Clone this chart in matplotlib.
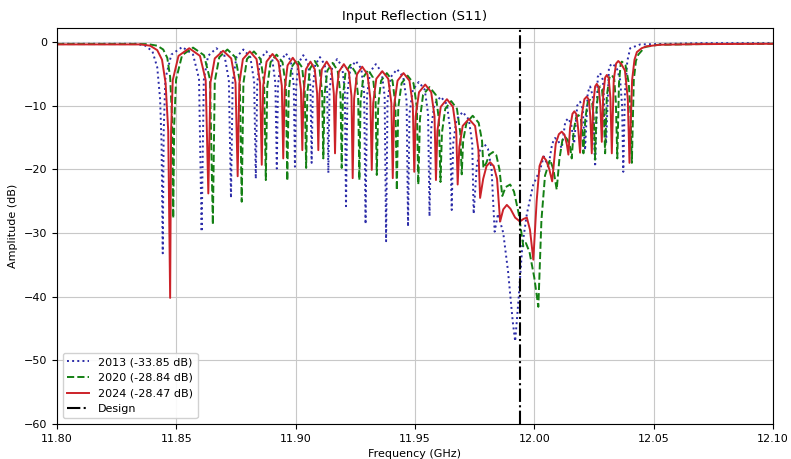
import matplotlib
matplotlib.use("Agg")
import matplotlib.pyplot as plt

# ---- data (frequency GHz, S11 dB) ----
S11_2013 = [
    (11.8000, -0.3), (11.8330, -0.3), (11.8370, -0.6), (11.8400, -1.5), (11.8420, -4.0),
    (11.8432, -9.0), (11.8438, -16.0), (11.8443, -33.2), (11.8447, -14.0),
    (11.8454, -5.8), (11.8479, -2.0), (11.8525, -0.8), (11.8570, -2.0), (11.8595, -5.8), (11.8606, -29.8),
    (11.8615, -6.0), (11.8633, -2.2), (11.8668, -1.0), (11.8702, -2.2), (11.8720, -6.0), (11.8729, -24.5),
    (11.8736, -6.2), (11.8752, -2.4), (11.8781, -1.2), (11.8810, -2.4), (11.8826, -6.2), (11.8833, -21.5),
    (11.8839, -6.5), (11.8852, -2.7), (11.8877, -1.5), (11.8902, -2.7), (11.8915, -6.5), (11.8921, -19.9),
    (11.8926, -6.8), (11.8938, -3.0), (11.8959, -1.8), (11.8980, -3.0), (11.8992, -6.8), (11.8997, -19.6),
    (11.9002, -7.1), (11.9012, -3.3), (11.9032, -2.1), (11.9052, -3.3), (11.9062, -7.1), (11.9067, -19.0),
    (11.9072, -7.4), (11.9082, -3.6), (11.9102, -2.4), (11.9122, -3.6), (11.9132, -7.4), (11.9137, -20.6),
    (11.9142, -7.7), (11.9153, -3.9), (11.9174, -2.7), (11.9195, -3.9), (11.9206, -7.7), (11.9211, -25.8),
    (11.9217, -8.0), (11.9229, -4.2), (11.9252, -3.0), (11.9275, -4.2), (11.9287, -8.0), (11.9293, -28.6),
    (11.9299, -8.5), (11.9312, -4.7), (11.9336, -3.5), (11.9360, -4.7), (11.9373, -8.5), (11.9379, -31.3),
    (11.9385, -9.3), (11.9399, -5.5), (11.9425, -4.3), (11.9451, -5.5), (11.9465, -9.3), (11.9471, -29.0),
    (11.9477, -11.3), (11.9491, -7.5), (11.9516, -6.3), (11.9541, -7.5), (11.9555, -11.3), (11.9561, -27.4),
    (11.9568, -13.6), (11.9581, -9.8), (11.9608, -8.6), (11.9634, -9.8), (11.9647, -13.6), (11.9654, -26.4),
    (11.9660, -16.0), (11.9674, -12.2), (11.9700, -11.0), (11.9726, -12.2), (11.9740, -16.0), (11.9746, -27.0),
    (11.9759, -19.5), (11.9774, -16.7), (11.9790, -16.0), (11.9806, -16.8), (11.9821, -20.0), (11.9834, -29.8),
    (11.9848, -27.0), (11.9870, -30.0), (11.9890, -36.0), (11.9910, -44.0), (11.9920, -47.0), (11.9935, -40.0),
    (11.9950, -32.0), (11.9969, -27.0), (11.9995, -22.5), (12.0024, -20.1), (12.0040, -18.0), (12.0059, -19.6),
    (12.0075, -16.0), (12.0087, -15.1), (12.0100, -15.5), (12.0115, -16.7), (12.0130, -12.5), (12.0143, -12.0),
    (12.0155, -13.0), (12.0167, -16.0), (12.0180, -10.0), (12.0192, -9.4), (12.0203, -10.5), (12.0213, -17.0),
    (12.0224, -8.0), (12.0234, -7.0), (12.0245, -8.5), (12.0255, -19.6), (12.0266, -5.5), (12.0276, -4.9),
    (12.0288, -6.0), (12.0301, -16.0), (12.0313, -4.0), (12.0325, -3.4), (12.0345, -4.0), (12.0360, -6.0),
    (12.0368, -10.0), (12.0373, -20.4), (12.0380, -8.0), (12.0390, -3.0), (12.0402, -1.0), (12.0444, -0.4),
    (12.0700, -0.2), (12.1000, -0.2),
]

S11_2020 = [
    (11.8000, -0.35), (11.8380, -0.35), (11.8420, -0.6), (11.8445, -1.2), (11.8462, -2.5),
    (11.8474, -5.5), (11.8482, -12.0), (11.8487, -27.7), (11.8491, -13.0),
    (11.8499, -5.9), (11.8524, -2.1), (11.8570, -0.9), (11.8616, -2.1), (11.8641, -5.9), (11.8653, -28.7),
    (11.8661, -6.2), (11.8680, -2.4), (11.8714, -1.2), (11.8747, -2.4), (11.8766, -6.2), (11.8774, -25.1),
    (11.8781, -6.5), (11.8796, -2.7), (11.8825, -1.5), (11.8853, -2.7), (11.8868, -6.5), (11.8875, -21.7),
    (11.8881, -7.0), (11.8895, -3.2), (11.8920, -2.0), (11.8945, -3.2), (11.8959, -7.0), (11.8965, -21.8),
    (11.8971, -7.8), (11.8982, -4.0), (11.9005, -2.8), (11.9027, -4.0), (11.9038, -7.8), (11.9044, -19.8),
    (11.9049, -8.0), (11.9060, -4.2), (11.9080, -3.0), (11.9100, -4.2), (11.9111, -8.0), (11.9116, -18.3),
    (11.9121, -8.3), (11.9133, -4.5), (11.9155, -3.3), (11.9176, -4.5), (11.9188, -8.3), (11.9193, -19.8),
    (11.9198, -8.6), (11.9209, -4.8), (11.9230, -3.6), (11.9251, -4.8), (11.9262, -8.6), (11.9267, -21.7),
    (11.9272, -9.4), (11.9283, -5.6), (11.9304, -4.4), (11.9324, -5.6), (11.9335, -9.4), (11.9340, -20.9),
    (11.9346, -9.9), (11.9358, -6.1), (11.9382, -4.9), (11.9406, -6.1), (11.9418, -9.9), (11.9424, -23.3),
    (11.9430, -10.3), (11.9444, -6.5), (11.9469, -5.3), (11.9494, -6.5), (11.9508, -10.3), (11.9514, -22.4),
    (11.9521, -12.1), (11.9534, -8.3), (11.9561, -7.1), (11.9587, -8.3), (11.9600, -12.1), (11.9607, -22.0),
    (11.9613, -14.3), (11.9627, -10.5), (11.9652, -9.3), (11.9676, -10.5), (11.9690, -14.3), (11.9696, -20.8),
    (11.9702, -15.5), (11.9716, -12.7), (11.9742, -11.6), (11.9767, -12.7), (11.9781, -15.5), (11.9787, -19.8),
    (11.9799, -19.0), (11.9812, -17.7), (11.9827, -17.3), (11.9841, -17.8), (11.9854, -20.0), (11.9866, -24.2),
    (11.9880, -22.8), (11.9899, -22.4), (11.9915, -23.5), (11.9935, -27.0), (11.9954, -32.1), (11.9965, -31.6),
    (11.9980, -33.0), (12.0000, -37.0), (12.0017, -41.6), (12.0030, -28.0), (12.0045, -21.0), (12.0066, -18.5),
    (12.0080, -20.0), (12.0094, -23.2),
    (12.0105, -18.5), (12.0118, -15.4), (12.0129, -14.9), (12.0140, -15.4), (12.0150, -16.5), (12.0157, -18.3),
    (12.0165, -14.0), (12.0175, -11.9), (12.0185, -11.5), (12.0195, -12.0), (12.0201, -14.0), (12.0206, -17.5),
    (12.0214, -12.0), (12.0224, -9.5), (12.0234, -9.1), (12.0243, -9.7), (12.0250, -12.5), (12.0255, -18.5),
    (12.0261, -10.5), (12.0269, -7.4), (12.0276, -7.0), (12.0284, -7.5), (12.0291, -10.8), (12.0297, -17.5),
    (12.0304, -8.5), (12.0315, -5.6), (12.0325, -5.2), (12.0335, -5.8), (12.0342, -9.5), (12.0348, -18.3),
    (12.0355, -6.5), (12.0362, -3.5), (12.0367, -3.1), (12.0382, -3.6), (12.0396, -6.5), (12.0403, -11.0),
    (12.0409, -19.0), (12.0417, -6.0), (12.0426, -3.0), (12.0436, -2.0), (12.0464, -0.8), (12.0520, -0.45),
    (12.0700, -0.35), (12.1000, -0.3),
]

S11_2024 = [
    (11.8000, -0.4), (11.8350, -0.4), (11.8390, -0.6), (11.8420, -1.3), (11.8440, -2.8),
    (11.8455, -6.5), (11.8466, -14.0), (11.8474, -40.2), (11.8478, -14.0),
    (11.8485, -6.0), (11.8509, -2.2), (11.8554, -1.0), (11.8599, -2.2), (11.8623, -6.0), (11.8634, -23.8),
    (11.8643, -6.4), (11.8661, -2.6), (11.8696, -1.4), (11.8730, -2.6), (11.8748, -6.4), (11.8757, -21.1),
    (11.8764, -6.5), (11.8779, -2.7), (11.8808, -1.5), (11.8836, -2.7), (11.8851, -6.5), (11.8858, -19.3),
    (11.8864, -6.9), (11.8878, -3.1), (11.8903, -1.9), (11.8928, -3.1), (11.8942, -6.9), (11.8948, -18.3),
    (11.8954, -7.5), (11.8966, -3.7), (11.8988, -2.5), (11.9010, -3.7), (11.9022, -7.5), (11.9028, -17.0),
    (11.9033, -8.1), (11.9043, -4.3), (11.9062, -3.1), (11.9080, -4.3), (11.9090, -8.1), (11.9095, -17.0),
    (11.9100, -8.1), (11.9110, -4.3), (11.9130, -3.1), (11.9150, -4.3), (11.9160, -8.1), (11.9165, -17.5),
    (11.9170, -8.5), (11.9181, -4.7), (11.9202, -3.5), (11.9223, -4.7), (11.9234, -8.5), (11.9239, -21.4),
    (11.9245, -8.9), (11.9257, -5.1), (11.9279, -3.9), (11.9301, -5.1), (11.9313, -8.9), (11.9319, -20.1),
    (11.9325, -9.6), (11.9338, -5.8), (11.9363, -4.6), (11.9388, -5.8), (11.9401, -9.6), (11.9407, -21.4),
    (11.9413, -9.9), (11.9427, -6.1), (11.9452, -4.9), (11.9477, -6.1), (11.9491, -9.9), (11.9497, -20.4),
    (11.9503, -11.7), (11.9517, -7.9), (11.9543, -6.7), (11.9568, -7.9), (11.9582, -11.7), (11.9588, -21.7),
    (11.9594, -14.0), (11.9608, -10.2), (11.9634, -9.0), (11.9659, -10.2), (11.9673, -14.0), (11.9679, -22.4),
    (11.9686, -16.5), (11.9700, -13.2), (11.9726, -12.1), (11.9752, -13.2), (11.9766, -17.0), (11.9773, -24.5),
    (11.9786, -21.5), (11.9800, -19.5), (11.9815, -18.9), (11.9830, -19.5), (11.9844, -21.5), (11.9857, -28.2),
    (11.9870, -26.3), (11.9885, -25.6), (11.9900, -26.2), (11.9920, -27.6), (11.9940, -28.2), (11.9955, -27.8),
    (11.9969, -27.6), (11.9982, -29.5), (11.9996, -34.2), (12.0010, -25.0), (12.0022, -19.5), (12.0037, -18.0),
    (12.0050, -18.6), (12.0063, -20.0), (12.0075, -21.9),
    (12.0090, -16.0), (12.0103, -14.5), (12.0115, -14.1), (12.0127, -14.6), (12.0136, -16.0), (12.0143, -17.7),
    (12.0150, -13.5), (12.0160, -11.3), (12.0168, -10.9), (12.0177, -11.4), (12.0185, -14.0), (12.0192, -17.4),
    (12.0199, -11.5), (12.0210, -9.0), (12.0220, -8.6), (12.0229, -9.1), (12.0235, -11.8), (12.0241, -17.5),
    (12.0247, -9.8), (12.0255, -7.0), (12.0262, -6.6), (12.0270, -7.1), (12.0277, -10.0), (12.0283, -15.7),
    (12.0289, -8.3), (12.0297, -5.6), (12.0304, -5.2), (12.0312, -5.7), (12.0319, -8.8), (12.0325, -17.5),
    (12.0333, -6.0), (12.0343, -3.4), (12.0352, -3.0), (12.0365, -3.5), (12.0380, -4.5), (12.0392, -9.0),
    (12.0399, -19.0), (12.0410, -6.0), (12.0420, -2.8), (12.0430, -1.6), (12.0450, -1.0), (12.0471, -0.7),
    (12.0527, -0.45), (12.0700, -0.35), (12.1000, -0.3),
]

DESIGN_FREQ = 11.994
LABELS = ["2013 (-33.85 dB)", "2020 (-28.84 dB)", "2024 (-28.47 dB)", "Design"]
X_TICKS = [11.80, 11.85, 11.90, 11.95, 12.00, 12.05, 12.10]
Y_TICKS = [-60, -50, -40, -30, -20, -10, 0]

# ---- plot ----
fig = plt.figure(figsize=(7.91, 4.59), dpi=100)
ax = fig.add_axes([0.0721, 0.0763, 0.905, 0.863])

f13, s13 = zip(*S11_2013)
f20, s20 = zip(*S11_2020)
f24, s24 = zip(*S11_2024)

ax.plot(f13, s13, linestyle=":", color="#2b2ba8", lw=1.4, label=LABELS[0])
ax.plot(f20, s20, linestyle="--", color="#148014", lw=1.4, label=LABELS[1])
ax.plot(f24, s24, linestyle="-", color="#cc2229", lw=1.4, label=LABELS[2])
ax.axvline(DESIGN_FREQ, color="black", linestyle="-.", lw=1.5, label=LABELS[3])

ax.set_xlim(11.80, 12.10)
ax.set_ylim(-60, 2.2)
ax.set_xticks(X_TICKS)
ax.set_xticklabels([f"{t:.2f}" for t in X_TICKS])
ax.set_yticks(Y_TICKS)
ax.tick_params(labelsize=8)
ax.grid(True, color="#c8c8c8", lw=0.8)
ax.set_axisbelow(True)
ax.set_xlabel("Frequency (GHz)", fontsize=8)
ax.set_ylabel("Amplitude (dB)", fontsize=8)
ax.set_title("Input Reflection (S11)", fontsize=9.5)
ax.legend(loc="lower left", fontsize=8, framealpha=0.9)

fig.savefig("out.png", dpi=100)
